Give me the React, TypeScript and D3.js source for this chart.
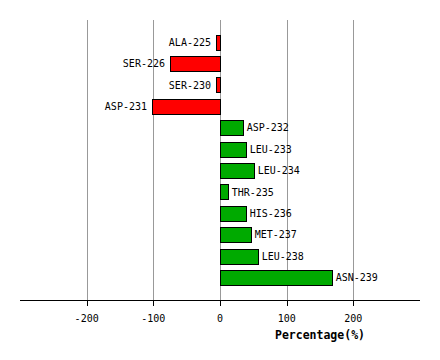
import React, { useEffect, useRef } from 'react';
import * as d3 from 'd3';

const residues = [
  'ALA-225', 'SER-226', 'SER-230', 'ASP-231', 'ASP-232', 'LEU-233',
  'LEU-234', 'THR-235', 'HIS-236', 'MET-237', 'LEU-238', 'ASN-239',
];
const percentages = [-6, -75, -6, -102, 34, 38.5, 50.5, 11.5, 38.5, 46, 56.5, 167.5];
const tickValues = [-200, -100, 0, 100, 200];
const axisTitle = 'Percentage(%)';

const App: React.FC = () => {
  const svgRef = useRef<SVGSVGElement>(null);

  useEffect(() => {
    if (!svgRef.current) return;
    const svg = d3.select(svgRef.current);
    svg.selectAll('*').remove();

    const width = 440;
    const height = 360;
    const top = 20;
    const axisY = 300;
    const mono = "'DejaVu Sans Mono', monospace";

    const x = d3.scaleLinear().domain([-300, 300]).range([20, 420]);
    const y = d3.scaleBand<string>()
      .domain(residues)
      .range([top, axisY])
      .paddingInner(0.28)
      .paddingOuter(0.68);

    svg.attr('width', width).attr('height', height).style('display', 'block');
    svg.append('rect').attr('width', width).attr('height', height).attr('fill', 'white');

    // vertical grid
    svg.append('g')
      .selectAll('line')
      .data(tickValues)
      .join('line')
      .attr('x1', d => Math.round(x(d)) + 0.5)
      .attr('x2', d => Math.round(x(d)) + 0.5)
      .attr('y1', top)
      .attr('y2', axisY)
      .attr('stroke', '#999')
      .attr('stroke-width', 1);

    const data = residues.map((r, i) => ({ name: r, value: percentages[i] }));

    svg.append('g')
      .selectAll('rect')
      .data(data)
      .join('rect')
      .attr('x', d => Math.round(x(Math.min(0, d.value))) + 0.5)
      .attr('y', d => Math.round(y(d.name)!) + 0.5)
      .attr('width', d => Math.round(Math.abs(x(d.value) - x(0))))
      .attr('height', Math.round(y.bandwidth()))
      .attr('fill', d => (d.value < 0 ? '#ff0000' : '#00aa00'))
      .attr('stroke', 'black')
      .attr('stroke-width', 1);

    svg.append('g')
      .selectAll('text')
      .data(data)
      .join('text')
      .attr('x', d => (d.value < 0 ? x(d.value) - 5 : x(d.value) + 4))
      .attr('y', d => y(d.name)! + y.bandwidth() / 2)
      .attr('dy', '0.35em')
      .attr('text-anchor', d => (d.value < 0 ? 'end' : 'start'))
      .style('font-family', mono)
      .style('font-size', '10px')
      .attr('fill', 'black')
      .text(d => d.name);

    // x axis
    const axis = svg.append('g').attr('transform', `translate(0,${axisY})`);
    axis.append('line')
      .attr('x1', 20).attr('x2', 420)
      .attr('y1', 0.5).attr('y2', 0.5)
      .attr('stroke', 'black');
    axis.selectAll('line.tick')
      .data(tickValues)
      .join('line')
      .attr('class', 'tick')
      .attr('x1', d => Math.round(x(d)) + 0.5)
      .attr('x2', d => Math.round(x(d)) + 0.5)
      .attr('y1', 0)
      .attr('y2', 6)
      .attr('stroke', 'black');
    axis.selectAll('text.tick')
      .data(tickValues)
      .join('text')
      .attr('class', 'tick')
      .attr('x', d => x(d))
      .attr('y', 22)
      .attr('text-anchor', 'middle')
      .style('font-family', mono)
      .style('font-size', '10px')
      .text(d => String(d));

    svg.append('text')
      .attr('x', 320)
      .attr('y', 339)
      .attr('text-anchor', 'middle')
      .style('font-family', mono)
      .style('font-size', '11.5px')
      .style('font-weight', 'bold')
      .text(axisTitle);
  }, []);

  return <svg ref={svgRef} style={{ position: 'absolute', left: 0, top: 0 }}></svg>;
};

export default App;
